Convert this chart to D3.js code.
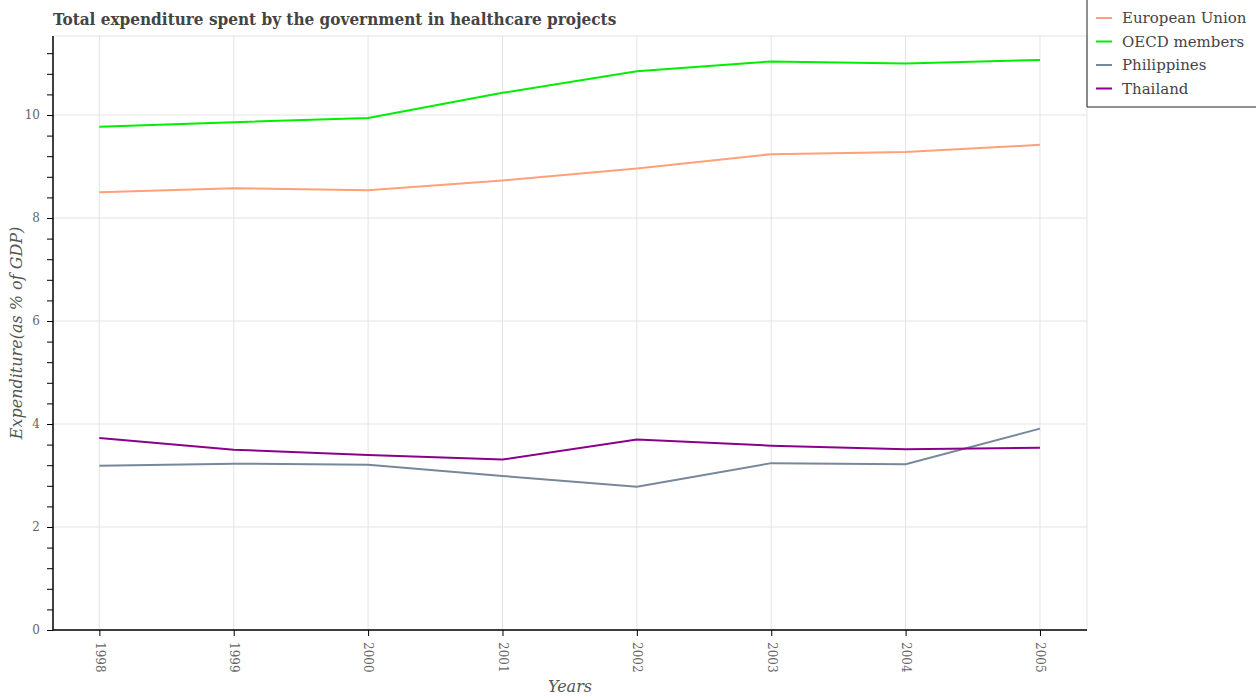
<!DOCTYPE html>
<html><head><meta charset="utf-8">
<script src="https://cdn.jsdelivr.net/npm/d3@7"></script>
<style>body{margin:0;background:#fff}svg{display:block}</style>
</head><body>
<svg id="c" width="1256" height="700"></svg>
<script>
const years = [1998, 1999, 2000, 2001, 2002, 2003, 2004, 2005];
const euValues = [8.50, 8.58, 8.54, 8.73, 8.96, 9.24, 9.28, 9.42];
const oecdValues = [9.77, 9.86, 9.94, 10.43, 10.85, 11.04, 11.00, 11.07];
const philValues = [3.19, 3.23, 3.21, 2.99, 2.78, 3.24, 3.22, 3.91];
const thaiValues = [3.73, 3.50, 3.40, 3.31, 3.70, 3.58, 3.51, 3.54];
const seriesNames = ["European Union", "OECD members", "Philippines", "Thailand"];
const seriesColors = ["#ffa07a", "#00ee00", "#778899", "#8b008b"];
const yTickLabels = [0, 2, 4, 6, 8, 10];

const series = [euValues, oecdValues, philValues, thaiValues].map((v, i) => ({
  name: seriesNames[i], color: seriesColors[i], values: v
}));

const svg = d3.select("#c");
const L = 53, R = 1087, T = 36, B = 630;
const x = d3.scaleLinear().domain([1997.655, 2005.35]).range([L, R]);
const y = d3.scaleLinear().domain([0, 10]).range([B, 115]);
const yMax = y.invert(T);
const serif = "'DejaVu Serif', serif";

// grid
const g = svg.append("g");
g.selectAll(".vg").data(years).join("line")
  .attr("x1", d => x(d)).attr("x2", d => x(d)).attr("y1", T).attr("y2", B)
  .attr("stroke", "#e3e3e3").attr("stroke-width", 1);
g.selectAll(".hg").data(yTickLabels).join("line")
  .attr("x1", L).attr("x2", R).attr("y1", d => y(d)).attr("y2", d => y(d))
  .attr("stroke", "#e3e3e3").attr("stroke-width", 1);
g.append("line").attr("x1", L).attr("x2", R).attr("y1", T).attr("y2", T)
  .attr("stroke", "#e3e3e3");
g.append("line").attr("x1", R).attr("x2", R).attr("y1", T).attr("y2", B)
  .attr("stroke", "#e3e3e3");

// lines
const line = d3.line().x((d, i) => x(years[i])).y(d => y(d));
svg.selectAll(".s").data(series).join("path")
  .attr("d", d => line(d.values))
  .attr("fill", "none").attr("stroke", d => d.color).attr("stroke-width", 2);

// y axis
const minorTicks = d3.range(0, yMax, 0.4).map(v => +v.toFixed(1));
const yAxis = d3.axisLeft(y).tickValues(minorTicks).tickSize(6)
  .tickFormat(d => yTickLabels.includes(d) ? d : "");
const ya = svg.append("g").attr("transform", `translate(${L},0)`).call(yAxis);
ya.select(".domain").attr("d", `M0,${T}V${B}`).attr("stroke", "#000").attr("stroke-width", 1.5);
ya.selectAll(".tick line").attr("stroke", "#000");
ya.selectAll("text").attr("font-family", serif).attr("font-size", 12).attr("fill", "#666").attr("dx", -4);

// x axis
const xAxis = d3.axisBottom(x).tickValues(years).tickSize(6).tickFormat(d => d);
const xa = svg.append("g").attr("transform", `translate(0,${B})`).call(xAxis);
xa.select(".domain").attr("d", `M${L},0H${R}`).attr("stroke", "#000").attr("stroke-width", 1.5);
xa.selectAll(".tick line").attr("stroke", "#000");
xa.selectAll("text").attr("font-family", serif).attr("font-size", 12).attr("fill", "#666")
  .attr("transform", "rotate(90)").attr("text-anchor", "start")
  .attr("x", 12).attr("y", 0).attr("dy", "0.35em");

// axis titles
svg.append("text").attr("x", 570).attr("y", 692).attr("text-anchor", "middle")
  .attr("font-family", serif).attr("font-style", "italic").attr("font-size", 16).attr("fill", "#555")
  .text("Years");
svg.append("text").attr("transform", "translate(22,333) rotate(-90)").attr("text-anchor", "middle")
  .attr("font-family", serif).attr("font-style", "italic").attr("font-size", 16).attr("fill", "#555")
  .text("Expenditure(as % of GDP)");

// title
svg.append("text").attr("x", 53).attr("y", 25)
  .attr("font-family", "'DejaVu Serif Condensed', 'DejaVu Serif', serif").attr("font-weight", "bold")
  .attr("font-size", 17).attr("fill", "#444")
  .text("Total expenditure spent by the government in healthcare projects");

// legend
const lg = svg.append("g");
lg.append("path").attr("d", "M1087,0V107H1256").attr("fill", "none").attr("stroke", "#222").attr("stroke-width", 1);
const items = lg.selectAll(".li").data(series).join("g")
  .attr("transform", (d, i) => `translate(1094,${18 + i * 23.5})`);
items.append("line").attr("x1", 2).attr("x2", 18).attr("y1", 0).attr("y2", 0)
  .attr("stroke", d => d.color).attr("stroke-width", 2);
items.append("text").attr("x", 28).attr("y", 0).attr("dy", "0.35em")
  .attr("font-family", serif).attr("font-size", 15).attr("fill", "#444")
  .text(d => d.name);
</script>
</body></html>
